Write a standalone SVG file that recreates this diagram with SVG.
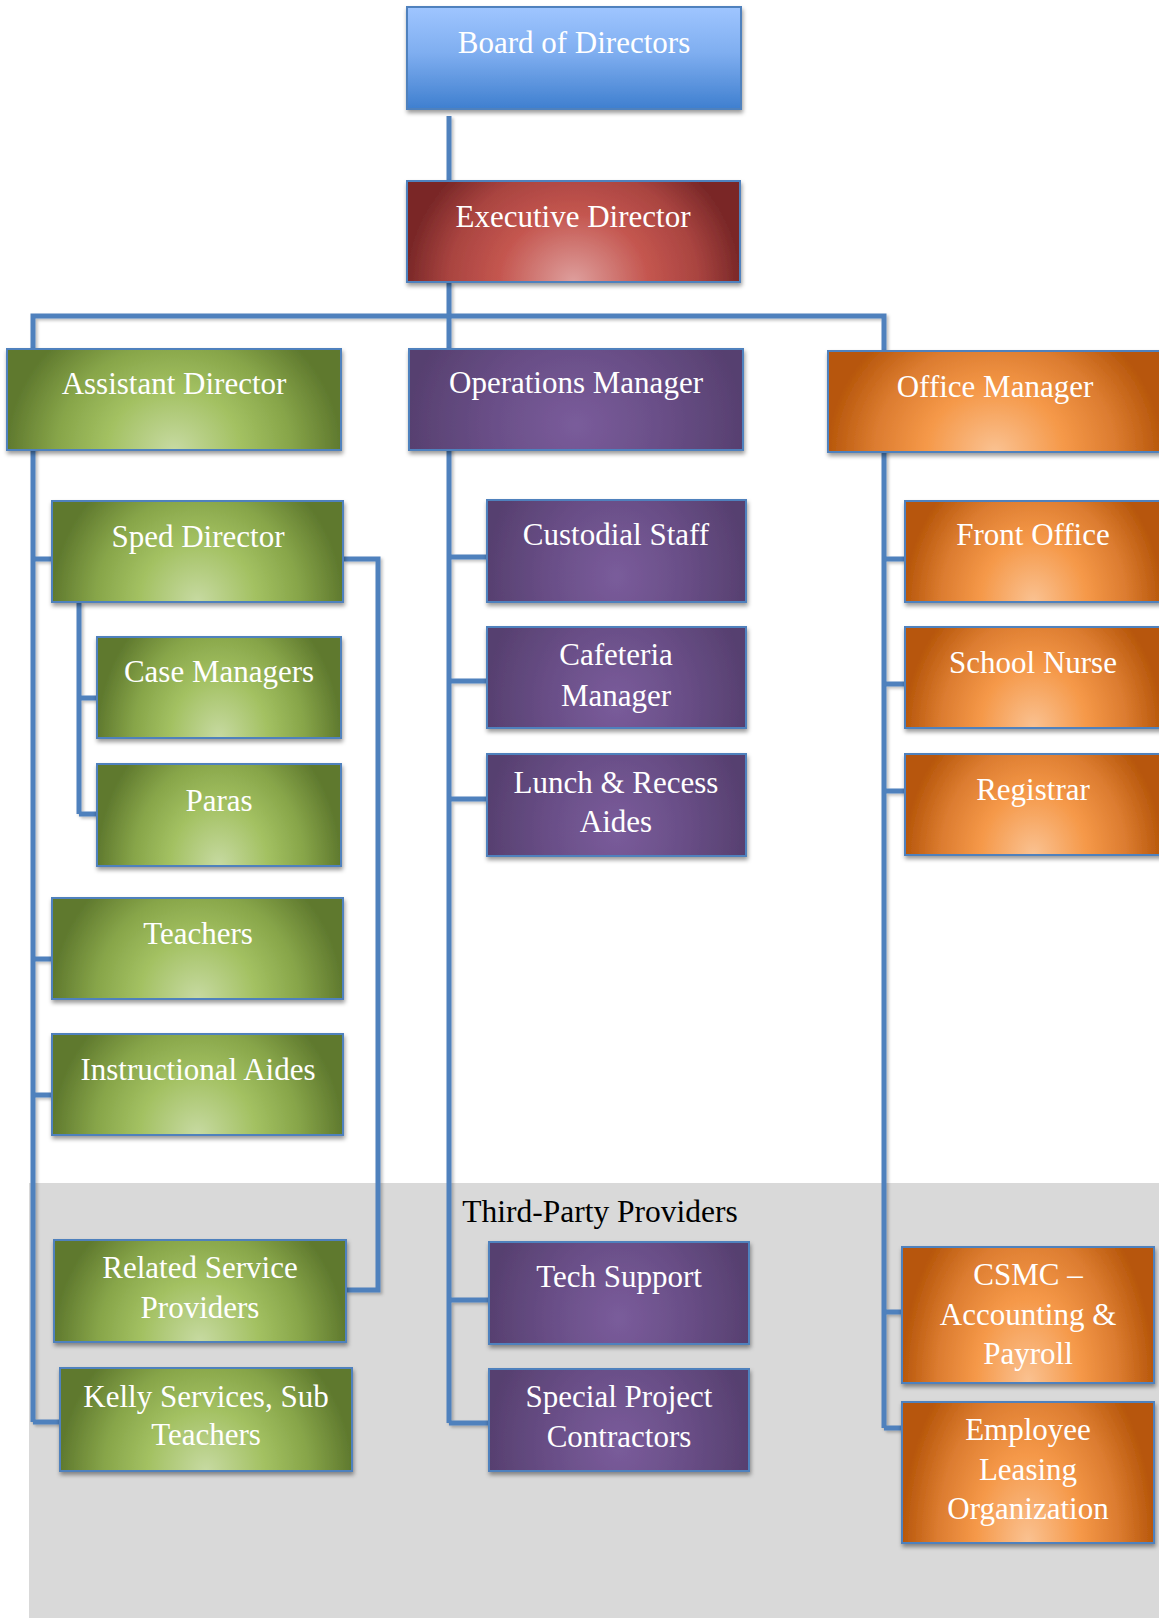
<svg xmlns="http://www.w3.org/2000/svg" width="1159" height="1618" viewBox="0 0 1159 1618">
<defs>
<linearGradient id="gBlue" x1="0" y1="0" x2="0" y2="1">
<stop offset="0" stop-color="#9FC5FF"/>
<stop offset="0.45" stop-color="#7FAEF0"/>
<stop offset="1" stop-color="#3F7FCF"/>
</linearGradient>
<radialGradient id="gRed" cx="0.5" cy="1" r="0.5" gradientTransform="translate(0.5 1) scale(1 3) translate(-0.5 -1)">
<stop offset="0" stop-color="#DE9F9D"/>
<stop offset="0.45" stop-color="#C4564F"/>
<stop offset="0.75" stop-color="#A94440"/>
<stop offset="1" stop-color="#7A2828"/>
</radialGradient>
<radialGradient id="gGreen" cx="0.5" cy="1" r="0.5" gradientTransform="translate(0.5 1) scale(1 3) translate(-0.5 -1)">
<stop offset="0" stop-color="#C7DAA2"/>
<stop offset="0.4" stop-color="#A3C162"/>
<stop offset="0.7" stop-color="#87A549"/>
<stop offset="1" stop-color="#5F792E"/>
</radialGradient>
<radialGradient id="gOrange" cx="0.5" cy="1" r="0.5" gradientTransform="translate(0.5 1) scale(1 3) translate(-0.5 -1)">
<stop offset="0" stop-color="#FAC292"/>
<stop offset="0.42" stop-color="#F59848"/>
<stop offset="0.72" stop-color="#DC7C30"/>
<stop offset="1" stop-color="#B7570B"/>
</radialGradient>
<radialGradient id="gPurple" cx="0.5" cy="0.75" r="0.5" gradientTransform="translate(0.5 0.75) scale(1 3) translate(-0.5 -0.75)">
<stop offset="0" stop-color="#7A5C9B"/>
<stop offset="0.5" stop-color="#6A4F88"/>
<stop offset="1" stop-color="#574070"/>
</radialGradient>
<filter id="shadow" x="-10%" y="-10%" width="125%" height="135%">
<feDropShadow dx="1" dy="3" stdDeviation="2" flood-color="#000" flood-opacity="0.4"/>
</filter>
<filter id="lshadow" x="-5%" y="-5%" width="110%" height="110%">
<feDropShadow dx="2" dy="2" stdDeviation="1.5" flood-color="#000" flood-opacity="0.25"/>
</filter>
</defs>
<style>
.box{stroke:#4F81BD;stroke-width:2;filter:url(#shadow);}
.blue{fill:url(#gBlue);}
.red{fill:url(#gRed);}
.green{fill:url(#gGreen);}
.orange{fill:url(#gOrange);}
.purple{fill:url(#gPurple);}
.t{font-family:"Liberation Serif","DejaVu Serif",serif;font-size:31px;fill:#FFFFFF;text-anchor:middle;}
.lbl{font-family:"Liberation Serif","DejaVu Serif",serif;font-size:31.5px;fill:#000000;text-anchor:middle;}
.c{fill:none;stroke:#4F81BD;stroke-width:5;stroke-linejoin:miter;}
</style>
<rect id="third-party-area" x="29" y="1183" width="1130" height="435" fill="#D9D9D9"/>
<text class="lbl" x="600" y="1222">Third-Party Providers</text>
<g id="connectors" filter="url(#lshadow)">
<path class="c" d="M449 116 V181"/>
<path class="c" d="M449 282 V1423"/>
<path class="c" d="M33 1422 V316 H884 V1428"/>
<path class="c" d="M33 559 H52 M33 959 H52 M33 1095 H52 M33 1422 H60"/>
<path class="c" d="M79 602 V814 M79 698 H97 M79 814 H97"/>
<path class="c" d="M343 559 H378 V1290 H346"/>
<path class="c" d="M449 557 H487 M449 681 H487 M449 799 H487 M449 1300 H489 M449 1423 H489"/>
<path class="c" d="M884 559 H905 M884 684 H905 M884 791 H905 M884 1312 H902 M884 1428 H902"/>
</g>
<g id="board"><rect class="box blue" x="407" y="7" width="334" height="102"/><text class="t" x="574" y="53">Board of Directors</text></g>
<g id="executive-director"><rect class="box red" x="407" y="181" width="333" height="101"/><text class="t" x="573" y="227">Executive Director</text></g>
<g id="assistant-director"><rect class="box green" x="7" y="349" width="334" height="101"/><text class="t" x="174" y="394">Assistant Director</text></g>
<g id="operations-manager"><rect class="box purple" x="409" y="349" width="334" height="101"/><text class="t" x="576" y="393">Operations Manager</text></g>
<g id="office-manager"><rect class="box orange" x="828" y="351" width="334" height="101"/><text class="t" x="995" y="397">Office Manager</text></g>
<g id="sped-director"><rect class="box green" x="52" y="501" width="291" height="101"/><text class="t" x="198" y="547">Sped Director</text></g>
<g id="case-managers"><rect class="box green" x="97" y="637" width="244" height="101"/><text class="t" x="219" y="682">Case Managers</text></g>
<g id="paras"><rect class="box green" x="97" y="764" width="244" height="102"/><text class="t" x="219" y="811">Paras</text></g>
<g id="teachers"><rect class="box green" x="52" y="898" width="291" height="101"/><text class="t" x="198" y="944">Teachers</text></g>
<g id="instructional-aides"><rect class="box green" x="52" y="1034" width="291" height="101"/><text class="t" x="198" y="1080">Instructional Aides</text></g>
<g id="related-service-providers"><rect class="box green" x="54" y="1240" width="292" height="102"/><text class="t" x="200" y="1278">Related Service</text><text class="t" x="200" y="1318">Providers</text></g>
<g id="kelly-services"><rect class="box green" x="60" y="1368" width="292" height="103"/><text class="t" x="206" y="1407">Kelly Services, Sub</text><text class="t" x="206" y="1445">Teachers</text></g>
<g id="custodial-staff"><rect class="box purple" x="487" y="500" width="259" height="102"/><text class="t" x="616" y="545">Custodial Staff</text></g>
<g id="cafeteria-manager"><rect class="box purple" x="487" y="627" width="259" height="101"/><text class="t" x="616" y="665">Cafeteria</text><text class="t" x="616" y="706">Manager</text></g>
<g id="lunch-recess-aides"><rect class="box purple" x="487" y="754" width="259" height="102"/><text class="t" x="616" y="793">Lunch &amp; Recess</text><text class="t" x="616" y="832">Aides</text></g>
<g id="tech-support"><rect class="box purple" x="489" y="1242" width="260" height="102"/><text class="t" x="619" y="1287">Tech Support</text></g>
<g id="special-project-contractors"><rect class="box purple" x="489" y="1369" width="260" height="102"/><text class="t" x="619" y="1407">Special Project</text><text class="t" x="619" y="1447">Contractors</text></g>
<g id="front-office"><rect class="box orange" x="905" y="501" width="257" height="101"/><text class="t" x="1033" y="545">Front Office</text></g>
<g id="school-nurse"><rect class="box orange" x="905" y="627" width="257" height="101"/><text class="t" x="1033" y="673">School Nurse</text></g>
<g id="registrar"><rect class="box orange" x="905" y="754" width="257" height="101"/><text class="t" x="1033" y="800">Registrar</text></g>
<g id="csmc"><rect class="box orange" x="902" y="1247" width="252" height="136"/><text class="t" x="1028" y="1285">CSMC –</text><text class="t" x="1028" y="1325">Accounting &amp;</text><text class="t" x="1028" y="1364">Payroll</text></g>
<g id="employee-leasing"><rect class="box orange" x="902" y="1402" width="252" height="141"/><text class="t" x="1028" y="1440">Employee</text><text class="t" x="1028" y="1480">Leasing</text><text class="t" x="1028" y="1519">Organization</text></g>
</svg>
